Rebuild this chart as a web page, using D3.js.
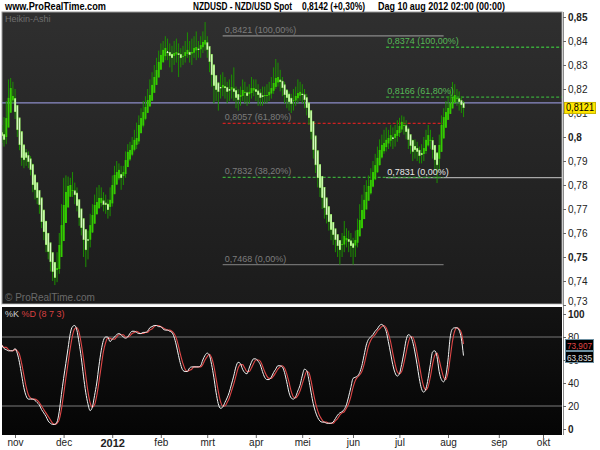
<!DOCTYPE html>
<html><head><meta charset="utf-8">
<script src="https://cdn.jsdelivr.net/npm/d3@7"></script>
<style>html,body{margin:0;padding:0;background:#fff;} svg{display:block;font-family:Arial,"Liberation Sans",sans-serif;}</style>
</head><body><svg id="c" width="600" height="450"></svg>
<script>
// ---------------- DATA ----------------
const startDate = "2011-10-24";
const axisEndDate = "2012-11-01";
const siteTitle = "www.ProRealTime.com";
const instrument = "NZDUSD - NZD/USD Spot";
const lastPrice = 0.8142;
const lastChange = "+0,30%";
const stamp = "Dag  10 aug 2012 02:00 (00:00)";
const monthLabels = ["nov","dec","2012","feb","mrt","apr","mei","jun","jul","aug","sep","okt"];
const priceTicks = [0.73,0.74,0.75,0.76,0.77,0.78,0.79,0.80,0.81,0.82,0.83,0.84,0.85];
const priceBold = [0.85,0.80,0.75];
const stochTicks = [0,20,40,60,80,100];
const stochBold = [0,100];
const stochBands = [20,80];
const firstOpen = 0.8020;
const haClose = [0.8004,0.7988,0.8079,0.8163,0.8204,0.8171,0.8104,0.8029,0.7967,0.7913,
0.7904,0.7913,0.7896,0.7863,0.7800,0.7779,0.7746,0.7717,0.7646,0.7604,
0.7550,0.7521,0.7479,0.7438,0.7413,0.7454,0.7550,0.7633,0.7717,0.7771,
0.7796,0.7800,0.7779,0.7758,0.7713,0.7663,0.7621,0.7571,0.7529,0.7571,
0.7633,0.7675,0.7717,0.7729,0.7746,0.7746,0.7717,0.7717,0.7696,0.7738,
0.7800,0.7842,0.7854,0.7863,0.7829,0.7854,0.7904,0.7938,0.7946,0.7967,
0.7988,0.7996,0.8050,0.8079,0.8104,0.8125,0.8154,0.8175,0.8217,0.8250,
0.8279,0.8313,0.8342,0.8363,0.8371,0.8354,0.8338,0.8329,0.8350,0.8354,
0.8342,0.8329,0.8338,0.8354,0.8363,0.8342,0.8354,0.8371,0.8375,0.8363,
0.8383,0.8396,0.8404,0.8363,0.8313,0.8258,0.8213,0.8196,0.8188,0.8204,
0.8217,0.8204,0.8188,0.8196,0.8208,0.8188,0.8163,0.8154,0.8175,0.8196,
0.8188,0.8171,0.8188,0.8204,0.8204,0.8188,0.8175,0.8163,0.8167,0.8175,
0.8175,0.8188,0.8204,0.8225,0.8246,0.8250,0.8229,0.8204,0.8175,0.8163,
0.8146,0.8138,0.8154,0.8171,0.8183,0.8188,0.8175,0.8154,0.8121,0.8079,
0.8021,0.7946,0.7883,0.7829,0.7788,0.7746,0.7704,0.7675,0.7646,0.7613,
0.7592,0.7571,0.7546,0.7529,0.7554,0.7588,0.7579,0.7563,0.7546,0.7538,
0.7571,0.7613,0.7654,0.7696,0.7738,0.7771,0.7796,0.7821,0.7854,0.7883,
0.7913,0.7946,0.7967,0.7975,0.7988,0.7996,0.8008,0.7996,0.8013,0.8029,
0.8046,0.8063,0.8050,0.8021,0.7988,0.7963,0.7938,0.7946,0.7938,0.7921,
0.7925,0.7954,0.7988,0.8008,0.7988,0.7946,0.7904,0.7883,0.7967,0.8050,
0.8083,0.8104,0.8121,0.8142,0.8167,0.8175,0.8163,0.8146,0.8133,0.8121];
const high = [0.8050,0.8083,0.8150,0.8240,0.8246,0.8230,0.8200,0.8130,0.8060,0.7990,
0.7960,0.7950,0.7940,0.7920,0.7890,0.7830,0.7800,0.7770,0.7740,0.7670,
0.7630,0.7580,0.7550,0.7500,0.7470,0.7520,0.7600,0.7720,0.7830,0.7840,
0.7835,0.7830,0.7854,0.7810,0.7790,0.7740,0.7690,0.7640,0.7590,0.7610,
0.7680,0.7720,0.7760,0.7790,0.7800,0.7790,0.7770,0.7760,0.7740,0.7790,
0.7840,0.7880,0.7900,0.7890,0.7880,0.7880,0.7940,0.7970,0.7980,0.8000,
0.8030,0.8060,0.8090,0.8120,0.8150,0.8170,0.8200,0.8240,0.8270,0.8300,
0.8330,0.8360,0.8390,0.8400,0.8420,0.8410,0.8390,0.8380,0.8400,0.8410,
0.8390,0.8370,0.8380,0.8400,0.8436,0.8400,0.8410,0.8420,0.8440,0.8400,
0.8420,0.8440,0.8479,0.8420,0.8380,0.8330,0.8270,0.8240,0.8230,0.8260,
0.8270,0.8250,0.8230,0.8240,0.8260,0.8290,0.8210,0.8200,0.8210,0.8240,
0.8230,0.8210,0.8220,0.8250,0.8240,0.8240,0.8220,0.8200,0.8210,0.8210,
0.8220,0.8230,0.8250,0.8290,0.8325,0.8310,0.8280,0.8250,0.8230,0.8200,
0.8190,0.8180,0.8200,0.8210,0.8240,0.8230,0.8220,0.8200,0.8180,0.8140,
0.8100,0.8040,0.7960,0.7900,0.7840,0.7800,0.7760,0.7720,0.7690,0.7660,
0.7640,0.7620,0.7590,0.7570,0.7600,0.7650,0.7620,0.7610,0.7600,0.7580,
0.7610,0.7660,0.7720,0.7760,0.7800,0.7820,0.7840,0.7870,0.7900,0.7930,
0.7960,0.7990,0.8010,0.8030,0.8040,0.8030,0.8050,0.8040,0.8050,0.8070,
0.8080,0.8090,0.8085,0.8070,0.8040,0.8010,0.7990,0.7990,0.7980,0.7960,
0.7970,0.8000,0.8030,0.8050,0.8030,0.8000,0.7960,0.7930,0.8010,0.8090,
0.8120,0.8150,0.8170,0.8200,0.8229,0.8220,0.8200,0.8190,0.8170,0.8150];
const low = [0.7975,0.7960,0.7970,0.8050,0.8120,0.8140,0.8075,0.8000,0.7945,0.7880,
0.7870,0.7880,0.7870,0.7840,0.7770,0.7740,0.7720,0.7680,0.7620,0.7570,
0.7520,0.7490,0.7440,0.7400,0.7383,0.7395,0.7430,0.7520,0.7600,0.7690,
0.7740,0.7760,0.7750,0.7720,0.7690,0.7630,0.7590,0.7500,0.7458,0.7490,
0.7540,0.7600,0.7640,0.7690,0.7700,0.7710,0.7690,0.7680,0.7660,0.7670,
0.7710,0.7780,0.7800,0.7820,0.7780,0.7800,0.7830,0.7880,0.7900,0.7920,
0.7940,0.7950,0.7970,0.8020,0.8040,0.8070,0.8100,0.8130,0.8150,0.8190,
0.8220,0.8260,0.8290,0.8310,0.8320,0.8320,0.8290,0.8270,0.8300,0.8310,
0.8250,0.8290,0.8300,0.8310,0.8330,0.8310,0.8300,0.8330,0.8320,0.8330,
0.8330,0.8350,0.8360,0.8330,0.8270,0.8210,0.8140,0.8150,0.8110,0.8160,
0.8170,0.8160,0.8140,0.8150,0.8160,0.8150,0.8120,0.8110,0.8130,0.8150,
0.8140,0.8130,0.8140,0.8160,0.8170,0.8150,0.8130,0.8130,0.8130,0.8140,
0.8140,0.8150,0.8160,0.8180,0.8200,0.8210,0.8190,0.8170,0.8140,0.8120,
0.8110,0.8100,0.8110,0.8130,0.8140,0.8150,0.8140,0.8120,0.8090,0.8050,
0.7990,0.7910,0.7850,0.7790,0.7750,0.7700,0.7660,0.7640,0.7610,0.7570,
0.7550,0.7520,0.7500,0.7468,0.7500,0.7520,0.7540,0.7520,0.7500,0.7468,
0.7500,0.7540,0.7590,0.7630,0.7670,0.7700,0.7740,0.7760,0.7790,0.7820,
0.7850,0.7880,0.7910,0.7930,0.7940,0.7950,0.7960,0.7950,0.7960,0.7980,
0.8000,0.8020,0.8010,0.7990,0.7950,0.7930,0.7900,0.7910,0.7900,0.7890,
0.7890,0.7900,0.7930,0.7960,0.7950,0.7910,0.7860,0.7808,0.7860,0.7940,
0.8030,0.8060,0.8080,0.8100,0.8120,0.8140,0.8130,0.8110,0.8100,0.8083];
const stochK = [73,70,69,68,68,68,70,66,58,47,36,29,26,26,26,25,23,21,17,14,
11,7,5,4,4,6,15,30,44,57,70,83,89,90,86,75,62,46,32,22,
16,19,29,40,55,68,77,80,80,76,78,80,82,83,82,80,79,80,83,85,
85,84,83,83,84,84,85,88,89,90,90,89,89,87,86,86,85,84,80,73,
64,56,51,50,50,53,54,54,54,54,55,60,64,66,64,56,45,32,22,18,
19,23,27,32,39,46,54,58,57,52,49,48,53,58,61,61,59,56,50,45,
43,43,45,49,52,55,55,54,49,41,32,27,26,28,33,38,46,52,51,43,
32,22,15,10,7,6,6,5,5,5,6,9,12,14,15,17,21,28,36,44,
45,46,49,55,64,73,78,80,82,85,87,90,91,89,85,76,66,56,49,46,
48,56,66,77,82,81,76,67,56,44,35,32,35,44,56,67,68,63,50,43,
41,46,60,80,87,88,88,86,79,63.835];
const stochD = [73,71,71,69,68,68,69,68,65,57,47,37,30,27,26,26,25,23,20,17,
14,11,8,5,4,5,8,17,30,44,57,70,81,87,88,84,74,61,47,33,
23,19,21,29,41,54,67,75,79,79,78,78,80,82,82,82,80,80,81,83,
84,85,84,83,83,84,84,86,87,89,90,90,89,88,87,86,86,85,83,79,
72,64,57,52,50,51,52,54,54,54,54,56,60,63,65,62,55,44,33,24,
20,20,23,27,33,39,46,53,56,56,53,50,50,53,57,60,60,59,55,50,
46,44,44,46,49,52,54,55,53,48,41,33,28,27,29,33,39,45,50,49,
42,32,23,16,11,8,6,6,5,5,5,7,9,12,14,15,18,22,28,36,
42,45,47,50,56,64,72,77,80,82,85,87,89,90,88,83,76,66,57,50,
48,50,57,66,75,80,80,75,66,56,45,37,34,37,45,56,64,66,60,52,
45,43,49,62,76,85,88,87,84,73.907];
const fib1Range = ["2012-03-12","2012-07-30"];
const fib1Values = [0.8421,0.8057,0.7832,0.7468];
const fib1Labels = ["0,8421 (100,00%)","0,8057 (61,80%)","0,7832 (38,20%)","0,7468 (0,00%)"];
const fib2Start = "2012-06-22";
const fib2Values = [0.8374,0.8166,0.7831];
const fib2Labels = ["0,8374 (100,00%)","0,8166 (61,80%)","0,7831 (0,00%)"];

// ---------------- LAYOUT ----------------
const PL = 2, PR = 562, pTop = 12, pBot = 304, sTop = 307, sBot = 435;
const svg = d3.select("#c");
const defs = svg.append("defs");
const g1 = defs.append("linearGradient").attr("id","gTop").attr("x1",0).attr("y1",0).attr("x2",0).attr("y2",1);
g1.append("stop").attr("offset","0%").attr("stop-color","#2f2f2f");
g1.append("stop").attr("offset","100%").attr("stop-color","#1b1b1b");
const g2 = defs.append("linearGradient").attr("id","gBot").attr("x1",0).attr("y1",0).attr("x2",0).attr("y2",1);
g2.append("stop").attr("offset","0%").attr("stop-color","#131313");
g2.append("stop").attr("offset","100%").attr("stop-color","#050505");
defs.append("clipPath").attr("id","cTop").append("rect").attr("x",PL).attr("y",pTop).attr("width",PR-PL).attr("height",pBot-pTop);
defs.append("clipPath").attr("id","cBot").append("rect").attr("x",PL).attr("y",sTop).attr("width",PR-PL).attr("height",sBot-sTop);

const loc = d3.formatLocale({decimal:",",thousands:".",grouping:[3],currency:["",""]});
const fPrice = loc.format(".2~f");
const f4 = loc.format(".4f");
const f3 = loc.format(".3f");

// trading days
const parse = d3.timeParse("%Y-%m-%d");
const days = d3.timeDay.range(parse(startDate), parse(axisEndDate)).filter(d => d.getDay() > 0 && d.getDay() < 6);
const idxOf = s => days.findIndex(d => +d === +parse(s));
const monthStarts = [];
days.forEach((d,i) => { if (i > 0 && d.getMonth() !== days[i-1].getMonth()) monthStarts.push(i); });

const x = d3.scaleLinear().domain([0, 245]).range([1.75, 543]);
const yP = d3.scaleLinear().domain([0.73, 0.85]).range([305, 17]);
const yS = d3.scaleLinear().domain([0, 100]).range([429, 314]);

// panels
svg.append("rect").attr("x",PL).attr("y",pTop).attr("width",PR-PL).attr("height",pBot-pTop).attr("fill","url(#gTop)").attr("stroke","#9a9a9a").attr("stroke-width",1);
svg.append("rect").attr("x",PL).attr("y",sTop).attr("width",PR-PL).attr("height",sBot-sTop).attr("fill","url(#gBot)");
svg.append("line").attr("x1",PL).attr("x2",PR).attr("y1",305.5).attr("y2",305.5).attr("stroke","#ffffff").attr("stroke-width",2);

// header
const hdr = svg.append("g").attr("font-size",10).attr("fill","#000").attr("font-weight","bold");
const hdrItems = [
  {t: siteTitle, x: 5, w: 101},
  {t: instrument, x: 193, w: 99},
  {t: f4(lastPrice) + " (" + lastChange + ")", x: 302, w: 63},
  {t: stamp, x: 378, w: 127}
];
hdrItems.forEach(h => hdr.append("text").attr("x",h.x).attr("y",10).attr("textLength",h.w).attr("lengthAdjust","spacingAndGlyphs").text(h.t));

// ---- top panel content
const topG = svg.append("g").attr("clip-path","url(#cTop)");
topG.append("text").attr("x",5).attr("y",22).attr("font-size",9).attr("fill","#6f6f6f").text("Heikin-Ashi");
topG.append("text").attr("x",5).attr("y",301).attr("font-size",10).attr("fill","#6a6a6a").text("\u00A9 ProRealTime.com");

const f1a = x(idxOf(fib1Range[0])), f1b = x(idxOf(fib1Range[1]));
const f2a = x(idxOf(fib2Start));
const fib1Style = [{c:"#8a8a8a",d:null},{c:"#d02020",d:"3,2"},{c:"#3aa83a",d:"3,2"},{c:"#707070",d:null}];
const fib2Style = [{c:"#3aa83a",d:"3,2",t:"#58b858"},{c:"#3aa83a",d:"3,2",t:"#58b858"},{c:"#a8a8a8",d:null,t:"#e8e8e8"}];
fib2Values.forEach((v,i) => {
  topG.append("line").attr("x1",f2a).attr("x2",PR).attr("y1",yP(v)).attr("y2",yP(v))
    .attr("stroke",fib2Style[i].c).attr("stroke-width",1.3).attr("stroke-dasharray",fib2Style[i].d);
});
fib1Values.forEach((v,i) => {
  topG.append("line").attr("x1",f1a).attr("x2",f1b).attr("y1",yP(v)).attr("y2",yP(v))
    .attr("stroke",fib1Style[i].c).attr("stroke-width",1.3).attr("stroke-dasharray",fib1Style[i].d);
  topG.append("text").attr("x",f1a+2).attr("y",yP(v)-3).attr("font-size",9).attr("fill","#7c7c7c").text(fib1Labels[i]);
});

// current price line
topG.append("line").attr("x1",PL).attr("x2",PR).attr("y1",yP(lastPrice)).attr("y2",yP(lastPrice)).attr("stroke","#8c8cc8").attr("stroke-width",1.3);

// Heikin-Ashi candles
const haOpen = [];
haClose.forEach((c,i) => { haOpen.push(i === 0 ? firstOpen : (haOpen[i-1] + haClose[i-1]) / 2); });
const candles = haClose.map((c,i) => ({i, o: haOpen[i], c, h: Math.max(high[i], haOpen[i], c), l: Math.min(low[i], haOpen[i], c)}));
const cg = topG.append("g");
cg.selectAll("line.w").data(candles).join("line").attr("class","w")
  .attr("x1",d => x(d.i)+0.1).attr("x2",d => x(d.i)+0.1)
  .attr("y1",d => yP(d.h)).attr("y2",d => yP(d.l))
  .attr("stroke","#1c9000").attr("stroke-width",1);
cg.selectAll("rect.b").data(candles).join("rect").attr("class","b")
  .attr("x",d => x(d.i)-0.8).attr("width",1.9)
  .attr("y",d => yP(Math.max(d.o,d.c)))
  .attr("height",d => Math.max(1, Math.abs(yP(d.o)-yP(d.c))))
  .attr("fill",d => d.c >= d.o ? "#34cc00" : "#9ef06c");
cg.selectAll("line.hl").data(candles.filter(d => d.c < d.o)).join("line").attr("class","hl")
  .attr("x1",d => x(d.i)+0.1).attr("x2",d => x(d.i)+0.1)
  .attr("y1",d => yP(d.o)+1).attr("y2",d => yP(d.c)-1)
  .attr("stroke","#eaffe0").attr("stroke-width",0.8);

fib2Values.forEach((v,i) => {
  topG.append("text").attr("x",f2a+1).attr("y",yP(v)-3).attr("font-size",9).attr("fill",fib2Style[i].t).text(fib2Labels[i]);
});

// ---- right price axis
const axP = d3.axisRight(yP).tickValues(priceTicks).tickSize(3).tickPadding(2).tickFormat(fPrice);
const gAx = svg.append("g").attr("transform",`translate(${PR+1},0)`).call(axP);
gAx.select(".domain").attr("stroke","#8c8c8c").attr("d",`M0.5,${pTop}V${sBot}`);
gAx.selectAll(".tick line").attr("stroke","#666");
gAx.selectAll(".tick text").attr("font-size",10).attr("fill","#222").attr("font-family","Arial, 'Liberation Sans', sans-serif")
  .attr("font-weight",d => priceBold.some(b => Math.abs(b-d) < 1e-9) ? "bold" : "normal")
  .attr("dy",d => d === 0.73 ? "-0.05em" : "0.32em");

const lv = haClose[haClose.length-1];
svg.append("rect").attr("x",564.5).attr("y",yP(lv)-5.5).attr("width",31).attr("height",11).attr("fill","#ffe600").attr("stroke","#c8b400");
svg.append("text").attr("x",566).attr("y",yP(lv)+3.5).attr("font-size",10).attr("textLength",28).attr("lengthAdjust","spacingAndGlyphs").attr("fill","#000").text(f4(lv));

// ---- stochastic panel
const botG = svg.append("g").attr("clip-path","url(#cBot)");
stochBands.forEach(v => botG.append("line").attr("x1",PL).attr("x2",PR).attr("y1",yS(v)).attr("y2",yS(v)).attr("stroke","#555").attr("stroke-width",1.5));
const ln = d3.line().x((d,i) => x(i)).y(d => yS(d)).curve(d3.curveMonotoneX);
botG.append("path").attr("d",ln(stochD)).attr("fill","none").attr("stroke","#e04848").attr("stroke-width",1.1);
botG.append("path").attr("d",ln(stochK)).attr("fill","none").attr("stroke","#f4f4f4").attr("stroke-width",1);
const lg = botG.append("text").attr("x",5).attr("y",317).attr("font-size",9);
lg.append("tspan").attr("fill","#cfcfcf").text("%K ");
lg.append("tspan").attr("fill","#d84040").text("%D (8 7 3)");

const axS = d3.axisRight(yS).tickValues(stochTicks).tickSize(3).tickPadding(2);
const gS = svg.append("g").attr("transform",`translate(${PR+1},0)`).call(axS);
gS.select(".domain").remove();
gS.selectAll(".tick line").attr("stroke","#666");
gS.selectAll(".tick text").attr("font-size",10).attr("fill","#222").attr("font-family","Arial, 'Liberation Sans', sans-serif")
  .attr("font-weight",d => stochBold.includes(d) ? "bold" : "normal");

const boxes = [{v: stochD[stochD.length-1], c:"#e04848"},{v: stochK[stochK.length-1], c:"#e0e0e0"}];
boxes.forEach((b,i) => {
  const yy = 339 + i*12;
  svg.append("rect").attr("x",565.5).attr("y",yy+0.5).attr("width",28).attr("height",11).attr("fill","#000").attr("stroke","#6c8fa0");
  svg.append("text").attr("x",567).attr("y",yy+9.5).attr("font-size",9.5).attr("textLength",25).attr("lengthAdjust","spacingAndGlyphs").attr("fill",b.c).text(f3(b.v));
});

// ---- x axis
const axX = d3.axisBottom(x).tickValues(monthStarts).tickSize(3).tickPadding(1).tickFormat((d,i) => monthLabels[i]);
const gX = svg.append("g").attr("transform",`translate(0,${sBot})`).call(axX);
gX.select(".domain").remove();
gX.selectAll(".tick line").attr("stroke","#666");
gX.selectAll(".tick text").attr("fill","#222").attr("font-family","Arial, 'Liberation Sans', sans-serif")
  .attr("font-weight",(d,i) => monthLabels[i] === "2012" ? "bold" : "normal")
  .attr("font-size",(d,i) => monthLabels[i] === "2012" ? 11 : 10);
</script></body></html>
